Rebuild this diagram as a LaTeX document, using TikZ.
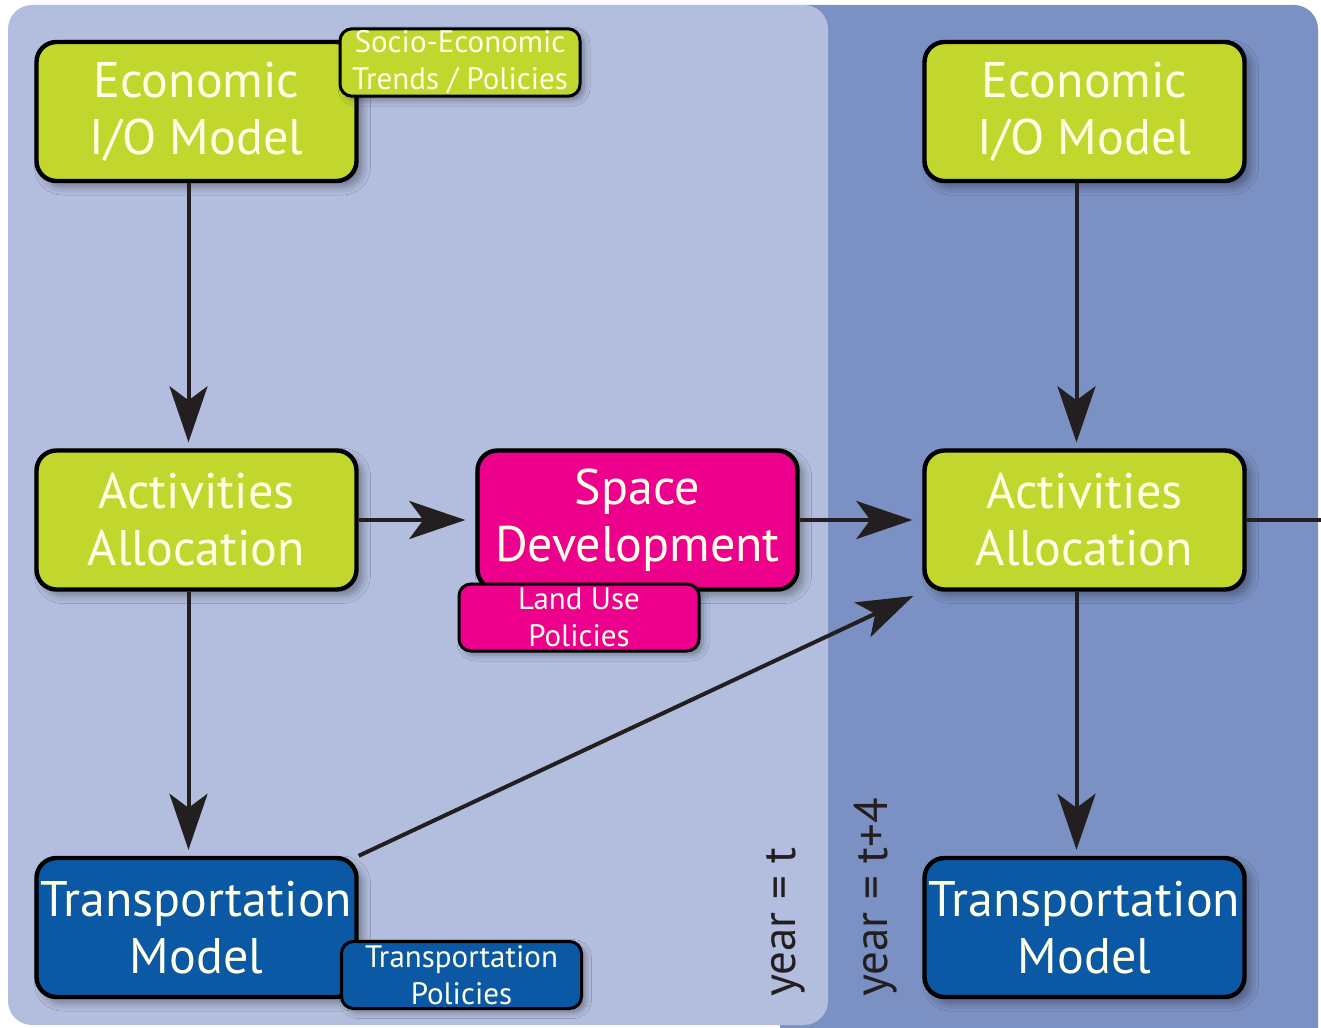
\documentclass[tikz,border=0pt]{standalone}
\usepackage{fontspec}
\setmainfont{PT Sans}
\usetikzlibrary{arrows.meta,shadows.blur}
\definecolor{modelgreen}{HTML}{C1D72E}
\definecolor{devpink}{HTML}{EC008C}
\definecolor{transblue}{HTML}{0B58A4}
\definecolor{yearnow}{HTML}{B3BEDE}
\definecolor{yearnext}{HTML}{7B90C3}
\definecolor{textcream}{HTML}{FFFFE6}
\definecolor{arrowgray}{HTML}{231F20}

\begin{document}
\begin{tikzpicture}[x=0.5pt, y=-0.5pt,
  box/.style={draw=black, line width=2.2pt, rounded corners=10pt, minimum width=160pt, minimum height=69.5pt, inner sep=2pt, text=textcream, align=center, font=\fontsize{25}{28.5}\selectfont, blur shadow={shadow xshift=3pt, shadow yshift=-3pt, shadow blur radius=4pt, shadow opacity=35}},
  tag/.style={draw=black, line width=1.5pt, rounded corners=6pt, minimum width=120pt, minimum height=33.5pt, inner sep=1pt, text=textcream, align=center, font=\fontsize{15.5}{18.5}\selectfont, blur shadow={shadow xshift=2pt, shadow yshift=-2pt, shadow blur radius=3pt, shadow opacity=35}},
  flow/.style={draw=arrowgray, line width=2pt, -{Stealth[length=28pt, width=19pt, inset=7pt]}, shorten >=3pt},
  yearlabel/.style={rotate=90, anchor=west, text=arrowgray, font=\fontsize{23.5}{25}\selectfont}]
\useasboundingbox (0,0) rectangle (1321,1027);
\fill[white] (0,0) rectangle (1321,1027);
\fill[yearnext, rounded corners=12pt] (780,5) rectangle (1318,1060);
\fill[yearnow, rounded corners=12pt] (8,5) rectangle (828,1025);
\node[box, fill=modelgreen] (eco1) at (196.5,111.5) {Economic\\I/O Model};
\node[box, fill=modelgreen] (act1) at (196.5,520) {Activities\\Allocation};
\node[box, fill=transblue] (trans1) at (196.5,927.5) {Transportation\\Model};
\node[box, fill=devpink] (space) at (637.5,520) {Space\\Development};
\node[box, fill=modelgreen] (eco2) at (1084.5,111.5) {Economic\\I/O Model};
\node[box, fill=modelgreen] (act2) at (1084.5,520) {Activities\\Allocation};
\node[box, fill=transblue] (trans2) at (1084.5,927.5) {Transportation\\Model};
\node[tag, fill=modelgreen] (socio) at (460,62.5) {Socio-Economic\\Trends / Policies};
\node[tag, fill=devpink] (landuse) at (579,617.5) {Land Use\\Policies};
\node[tag, fill=transblue] (transpol) at (461.5,975) {Transportation\\Policies};
\coordinate (exit) at (1321,520);
\draw[flow] ([xshift=-4pt]eco1.south) -- ([xshift=-4pt]act1.north);
\draw[flow] ([xshift=-4pt]act1.south) -- ([xshift=-4pt]trans1.north);
\draw[flow, shorten >=5pt] (act1.east) -- (space.west);
\draw[flow, shorten >=5pt] (space.east) -- (act2.west);
\draw[flow, shorten >=5pt] (trans1.north east) -- (act2.south west);
\draw[flow] ([xshift=-4pt]eco2.south) -- ([xshift=-4pt]act2.north);
\draw[flow] ([xshift=-4pt]act2.south) -- ([xshift=-4pt]trans2.north);
\draw[draw=arrowgray, line width=2pt] (act2.east) -- (exit);
\node[yearlabel] (now) at (786,1004) {year = t};
\node[yearlabel] (next) at (876,1004) {year = t+4};
\end{tikzpicture}
\end{document}
